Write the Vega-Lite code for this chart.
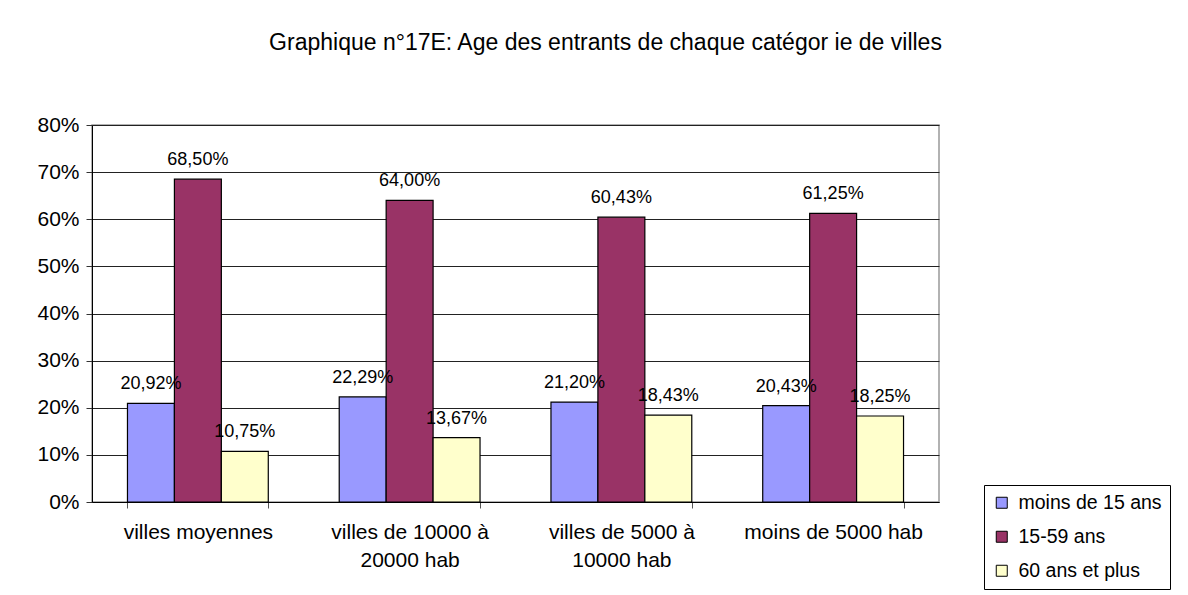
{
  "$schema": "https://vega.github.io/schema/vega-lite/v6.json",
  "autosize": "none",
  "width": 847,
  "height": 377,
  "padding": {"left": 92, "top": 125, "right": 249, "bottom": 93},
  "background": "white",
  "title": {
    "text": "Graphique n°17E: Age des entrants de chaque catégor ie de villes",
    "font": "Liberation Sans",
    "fontSize": 23,
    "fontWeight": "normal",
    "color": "black",
    "anchor": "middle",
    "frame": "group",
    "baseline": "alphabetic",
    "dx": 90,
    "offset": 41
  },
  "data": {
    "values": [
      {"ville": "villes moyennes", "age": "moins de 15 ans", "part": 0.2092},
      {"ville": "villes moyennes", "age": "15-59 ans", "part": 0.6850},
      {"ville": "villes moyennes", "age": "60 ans et plus", "part": 0.1075},
      {"ville": "villes de 10000 à 20000 hab", "age": "moins de 15 ans", "part": 0.2229},
      {"ville": "villes de 10000 à 20000 hab", "age": "15-59 ans", "part": 0.6400},
      {"ville": "villes de 10000 à 20000 hab", "age": "60 ans et plus", "part": 0.1367},
      {"ville": "villes de 5000 à 10000 hab", "age": "moins de 15 ans", "part": 0.2120},
      {"ville": "villes de 5000 à 10000 hab", "age": "15-59 ans", "part": 0.6043},
      {"ville": "villes de 5000 à 10000 hab", "age": "60 ans et plus", "part": 0.1843},
      {"ville": "moins de 5000 hab", "age": "moins de 15 ans", "part": 0.2043},
      {"ville": "moins de 5000 hab", "age": "15-59 ans", "part": 0.6125},
      {"ville": "moins de 5000 hab", "age": "60 ans et plus", "part": 0.1825}
    ]
  },
  "encoding": {
    "x": {
      "field": "ville",
      "type": "nominal",
      "sort": null,
      "scale": {"paddingInner": 0.335, "paddingOuter": 0.1675},
      "axis": {
        "title": null,
        "labelAngle": 0,
        "tickBand": "extent",
        "domainColor": "black",
        "tickColor": "#555",
        "tickSize": 6,
        "labelFont": "Liberation Sans",
        "labelFontSize": 21,
        "labelColor": "black",
        "labelPadding": 13,
        "labelLineHeight": 28,
        "labelBaseline": "top",
        "labelLimit": 300,
        "labelExpr": "datum.value == 'villes de 10000 à 20000 hab' ? ['villes de 10000 à', '20000 hab'] : datum.value == 'villes de 5000 à 10000 hab' ? ['villes de 5000 à', '10000 hab'] : datum.value"
      }
    },
    "xOffset": {
      "field": "age",
      "type": "nominal",
      "sort": ["moins de 15 ans", "15-59 ans", "60 ans et plus"],
      "scale": {"paddingInner": 0, "paddingOuter": 0}
    },
    "y": {
      "field": "part",
      "type": "quantitative",
      "scale": {"domain": [0, 0.8], "nice": false},
      "axis": {
        "title": null,
        "format": ".0%",
        "values": [0, 0.1, 0.2, 0.3, 0.4, 0.5, 0.6, 0.7, 0.8],
        "grid": true,
        "gridColor": "#222",
        "domainColor": "black",
        "tickColor": "#333",
        "tickSize": 6,
        "labelPadding": 7,
        "labelFont": "Liberation Sans",
        "labelFontSize": 21,
        "labelColor": "black"
      }
    }
  },
  "layer": [
    {
      "mark": {"type": "bar", "stroke": "black", "strokeWidth": 1.2},
      "encoding": {
        "color": {
          "field": "age",
          "type": "nominal",
          "sort": ["moins de 15 ans", "15-59 ans", "60 ans et plus"],
          "scale": {
            "domain": ["moins de 15 ans", "15-59 ans", "60 ans et plus"],
            "range": ["#9999FF", "#993366", "#FFFFCC"]
          },
          "legend": {
            "title": null,
            "orient": "none",
            "legendX": 892,
            "legendY": 360,
            "direction": "vertical",
            "symbolType": "square",
            "symbolSize": 121,
            "symbolStrokeColor": "black",
            "symbolStrokeWidth": 1,
            "labelFont": "Liberation Sans",
            "labelFontSize": 19.5,
            "labelColor": "black",
            "labelOffset": 7,
            "rowPadding": 13,
            "padding": 8,
            "strokeColor": "black",
            "fillColor": "white"
          }
        }
      }
    },
    {
      "mark": {
        "type": "text",
        "font": "Liberation Sans",
        "fontSize": 18,
        "color": "black",
        "baseline": "alphabetic",
        "dy": -14
      },
      "encoding": {
        "text": {"field": "part", "type": "quantitative", "format": ".2%"}
      }
    }
  ],
  "config": {
    "locale": {
      "number": {
        "decimal": ",",
        "thousands": " ",
        "grouping": [3],
        "currency": ["", " €"]
      }
    },
    "view": {"stroke": "#999", "strokeWidth": 1.5}
  }
}
